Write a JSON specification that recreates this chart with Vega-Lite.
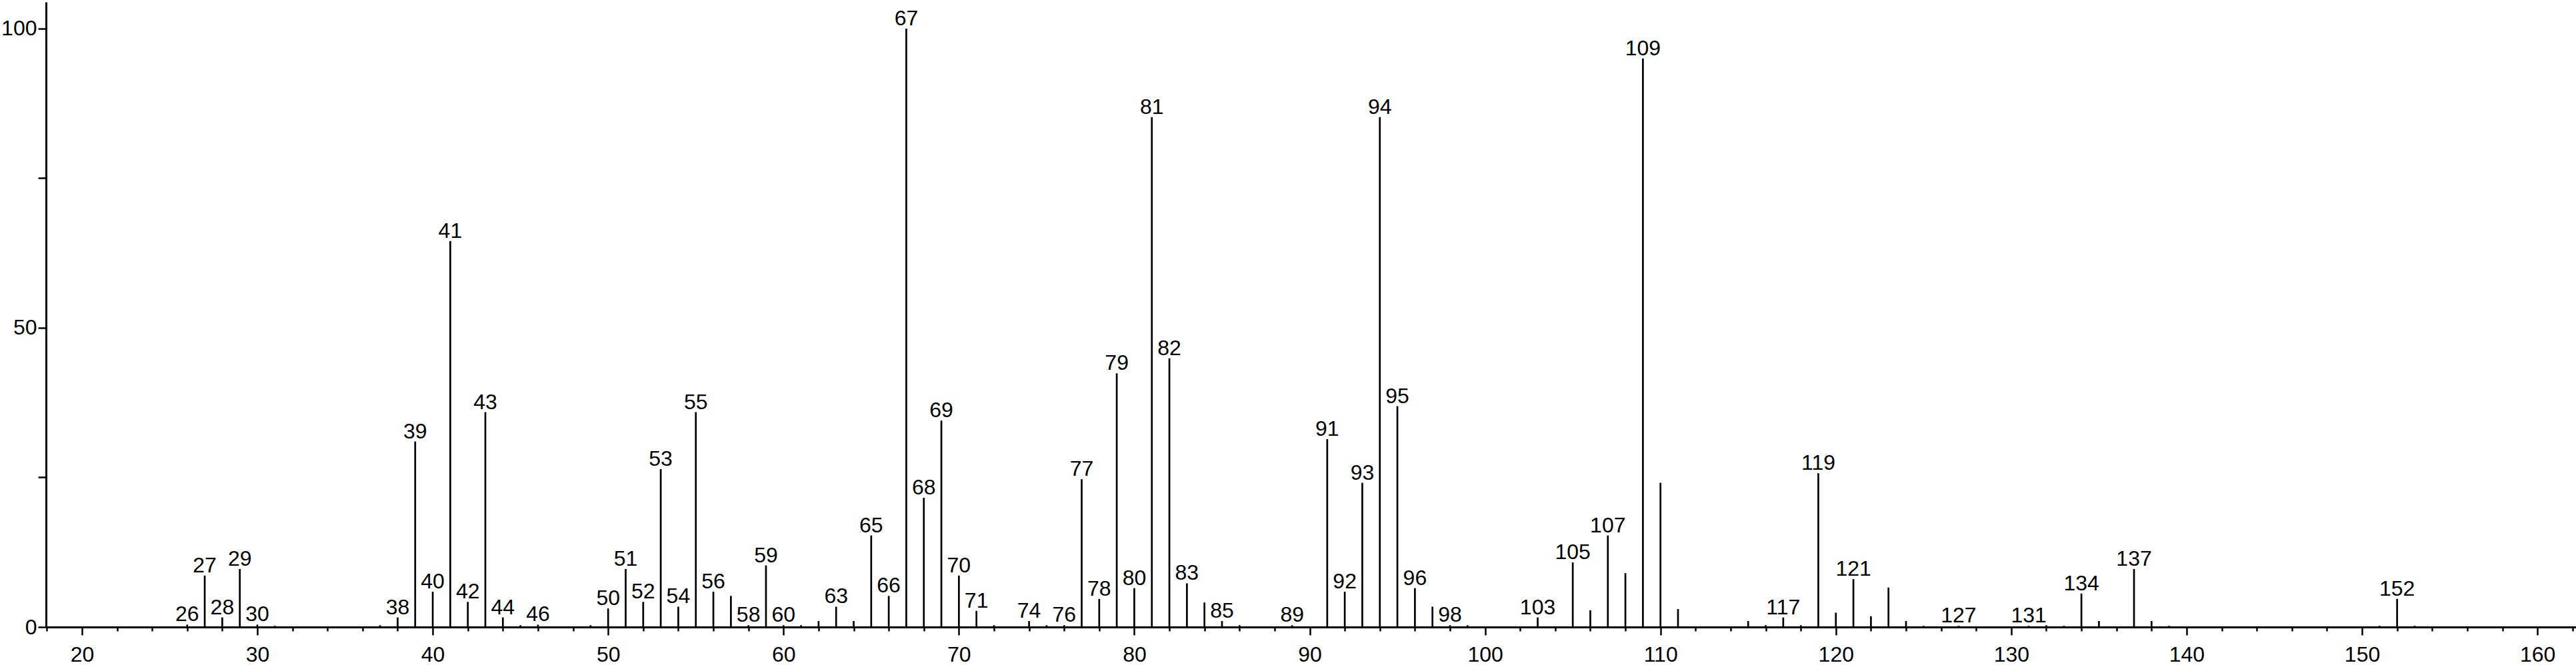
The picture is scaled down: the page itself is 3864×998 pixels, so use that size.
{
  "$schema": "https://vega.github.io/schema/vega-lite/v6.json",
  "autosize": {"type": "none"},
  "width": 3795,
  "height": 938,
  "padding": {"left": 69, "top": 3, "right": 0, "bottom": 57},
  "background": "white",
  "config": {
    "view": {"stroke": null},
    "font": "Liberation Sans"
  },
  "data": {
    "values": [
      {"mz": 26, "intensity": 0.4, "label": "26"},
      {"mz": 27, "intensity": 8.6, "label": "27"},
      {"mz": 28, "intensity": 1.6, "label": "28"},
      {"mz": 29, "intensity": 9.7, "label": "29"},
      {"mz": 30, "intensity": 0.4, "label": "30"},
      {"mz": 31, "intensity": 0.2, "label": null},
      {"mz": 37, "intensity": 0.3, "label": null},
      {"mz": 38, "intensity": 1.6, "label": "38"},
      {"mz": 39, "intensity": 31.0, "label": "39"},
      {"mz": 40, "intensity": 5.9, "label": "40"},
      {"mz": 41, "intensity": 64.5, "label": "41"},
      {"mz": 42, "intensity": 4.2, "label": "42"},
      {"mz": 43, "intensity": 35.9, "label": "43"},
      {"mz": 44, "intensity": 1.6, "label": "44"},
      {"mz": 45, "intensity": 0.3, "label": null},
      {"mz": 46, "intensity": 0.4, "label": "46"},
      {"mz": 49, "intensity": 0.3, "label": null},
      {"mz": 50, "intensity": 3.1, "label": "50"},
      {"mz": 51, "intensity": 9.7, "label": "51"},
      {"mz": 52, "intensity": 4.2, "label": "52"},
      {"mz": 53, "intensity": 26.4, "label": "53"},
      {"mz": 54, "intensity": 3.4, "label": "54"},
      {"mz": 55, "intensity": 35.9, "label": "55"},
      {"mz": 56, "intensity": 5.9, "label": "56"},
      {"mz": 57, "intensity": 5.2, "label": null},
      {"mz": 58, "intensity": 0.3, "label": "58"},
      {"mz": 59, "intensity": 10.3, "label": "59"},
      {"mz": 60, "intensity": 0.3, "label": "60"},
      {"mz": 61, "intensity": 0.3, "label": null},
      {"mz": 62, "intensity": 1.0, "label": null},
      {"mz": 63, "intensity": 3.4, "label": "63"},
      {"mz": 64, "intensity": 1.0, "label": null},
      {"mz": 65, "intensity": 15.3, "label": "65"},
      {"mz": 66, "intensity": 5.2, "label": "66"},
      {"mz": 67, "intensity": 100, "label": "67"},
      {"mz": 68, "intensity": 21.6, "label": "68"},
      {"mz": 69, "intensity": 34.5, "label": "69"},
      {"mz": 70, "intensity": 8.6, "label": "70"},
      {"mz": 71, "intensity": 2.7, "label": "71"},
      {"mz": 72, "intensity": 0.3, "label": null},
      {"mz": 74, "intensity": 1.0, "label": "74"},
      {"mz": 75, "intensity": 0.3, "label": null},
      {"mz": 76, "intensity": 0.3, "label": "76"},
      {"mz": 77, "intensity": 24.7, "label": "77"},
      {"mz": 78, "intensity": 4.7, "label": "78"},
      {"mz": 79, "intensity": 42.4, "label": "79"},
      {"mz": 80, "intensity": 6.5, "label": "80"},
      {"mz": 81, "intensity": 85.2, "label": "81"},
      {"mz": 82, "intensity": 44.9, "label": "82"},
      {"mz": 83, "intensity": 7.3, "label": "83"},
      {"mz": 84, "intensity": 4.1, "label": null},
      {"mz": 85, "intensity": 1.0, "label": "85"},
      {"mz": 86, "intensity": 0.3, "label": null},
      {"mz": 89, "intensity": 0.3, "label": "89"},
      {"mz": 91, "intensity": 31.4, "label": "91"},
      {"mz": 92, "intensity": 5.9, "label": "92"},
      {"mz": 93, "intensity": 24.1, "label": "93"},
      {"mz": 94, "intensity": 85.2, "label": "94"},
      {"mz": 95, "intensity": 36.9, "label": "95"},
      {"mz": 96, "intensity": 6.5, "label": "96"},
      {"mz": 97, "intensity": 3.4, "label": null},
      {"mz": 98, "intensity": 0.3, "label": "98"},
      {"mz": 99, "intensity": 0.3, "label": null},
      {"mz": 103, "intensity": 1.6, "label": "103"},
      {"mz": 105, "intensity": 10.8, "label": "105"},
      {"mz": 106, "intensity": 2.8, "label": null},
      {"mz": 107, "intensity": 15.3, "label": "107"},
      {"mz": 108, "intensity": 9.0, "label": null},
      {"mz": 109, "intensity": 95.0, "label": "109"},
      {"mz": 110, "intensity": 24.1, "label": null},
      {"mz": 111, "intensity": 3.0, "label": null},
      {"mz": 115, "intensity": 1.0, "label": null},
      {"mz": 116, "intensity": 0.3, "label": null},
      {"mz": 117, "intensity": 1.6, "label": "117"},
      {"mz": 118, "intensity": 0.3, "label": null},
      {"mz": 119, "intensity": 25.7, "label": "119"},
      {"mz": 120, "intensity": 2.4, "label": null},
      {"mz": 121, "intensity": 8.0, "label": "121"},
      {"mz": 122, "intensity": 1.8, "label": null},
      {"mz": 123, "intensity": 6.6, "label": null},
      {"mz": 124, "intensity": 1.0, "label": null},
      {"mz": 125, "intensity": 0.2, "label": null},
      {"mz": 127, "intensity": 0.2, "label": "127"},
      {"mz": 131, "intensity": 0.2, "label": "131"},
      {"mz": 132, "intensity": 0.3, "label": null},
      {"mz": 133, "intensity": 0.2, "label": null},
      {"mz": 134, "intensity": 5.6, "label": "134"},
      {"mz": 135, "intensity": 1.0, "label": null},
      {"mz": 137, "intensity": 9.7, "label": "137"},
      {"mz": 138, "intensity": 1.0, "label": null},
      {"mz": 139, "intensity": 0.2, "label": null},
      {"mz": 151, "intensity": 0.2, "label": null},
      {"mz": 152, "intensity": 4.7, "label": "152"},
      {"mz": 153, "intensity": 0.2, "label": null}
    ]
  },
  "encoding": {
    "x": {
      "field": "mz",
      "type": "quantitative",
      "scale": {"domain": [17.95, 162.2], "nice": false, "zero": false},
      "axis": {
        "title": null,
        "values": [18,20,22,24,26,28,30,32,34,36,38,40,42,44,46,48,50,52,54,56,58,60,62,64,66,68,70,72,74,76,78,80,82,84,86,88,90,92,94,96,98,100,102,104,106,108,110,112,114,116,118,120,122,124,126,128,130,132,134,136,138,140,142,144,146,148,150,152,154,156,158,160,162],
        "labelExpr": "datum.value % 10 === 0 ? datum.label : ''",
        "tickSize": {"condition": {"test": "datum.value % 10 === 0", "value": 12}, "value": 6},
        "tickWidth": 2.5,
        "tickColor": "black",
        "domainColor": "black",
        "domainWidth": 3,
        "labelFontSize": 32,
        "labelColor": "black",
        "labelPadding": 14,
        "labelBaseline": "top",
        "grid": false,
        "labelFlush": false,
        "labelOverlap": false
      }
    },
    "y": {
      "field": "intensity",
      "type": "quantitative",
      "scale": {"domain": [0, 104.45], "nice": false},
      "axis": {
        "title": null,
        "values": [0, 25, 50, 75, 100],
        "labelExpr": "datum.value % 50 === 0 ? datum.label : ''",
        "tickSize": 12,
        "tickWidth": 2.5,
        "tickColor": "black",
        "domainColor": "black",
        "domainWidth": 3,
        "labelFontSize": 32,
        "labelColor": "black",
        "labelPadding": 2,
        "grid": false,
        "labelFlush": false,
        "labelOverlap": false
      }
    }
  },
  "layer": [
    {
      "mark": {"type": "rule", "color": "black", "strokeWidth": 2.7},
      "encoding": {"y2": {"datum": 0}}
    },
    {
      "transform": [{"filter": "datum.label != null"}],
      "mark": {"type": "text", "baseline": "alphabetic", "align": "center", "dy": -5, "fontSize": 32, "color": "black", "font": "Liberation Sans"},
      "encoding": {"text": {"field": "label", "type": "nominal"}}
    }
  ]
}
